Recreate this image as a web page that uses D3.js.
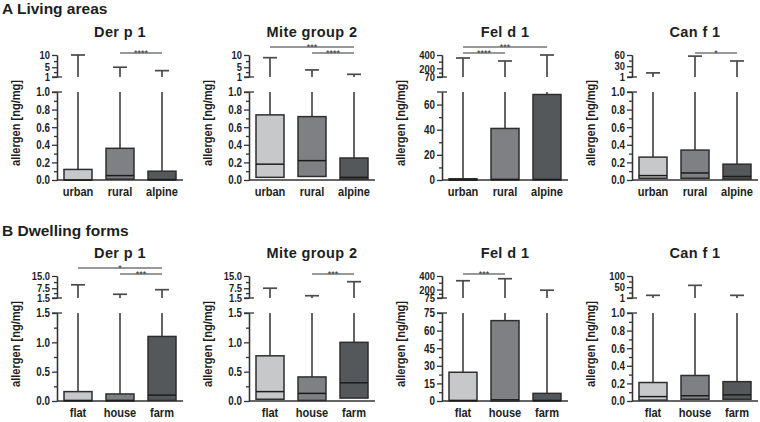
<!DOCTYPE html>
<html><head><meta charset="utf-8">
<script src="https://cdn.jsdelivr.net/npm/d3@7"></script>
<style>
html,body{margin:0;padding:0;background:#fff;}
svg{display:block;}
</style></head><body>
<svg id="c" width="760" height="422"></svg>
<script>
const groupsA = ["urban","rural","alpine"];
const groupsB = ["flat","house","farm"];
const allergens = ["Der p 1","Mite group 2","Fel d 1","Can f 1"];
const sectionTitles = ["A Living areas","B Dwelling forms"];
const fills = ["#c7c8c9","#7e8083","#55585b"];

// box stats per group: [q1, median, q3, max]
const derp1A = [[0,0,0.12,10],[0.01,0.05,0.36,5],[0,0.005,0.10,3.6]];
const mite2A = [[0.03,0.18,0.74,8.9],[0.04,0.22,0.72,3.9],[0.01,0.03,0.25,2.1]];
const feld1A = [[0,0,1,355],[0,0.5,41,310],[0,0.5,68,400]];
const canf1A = [[0.02,0.05,0.26,12],[0.02,0.08,0.34,57],[0.01,0.04,0.18,44]];
const derp1B = [[0,0.01,0.16,9.6],[0,0.01,0.12,3.8],[0.01,0.1,1.1,6.6]];
const mite2B = [[0.03,0.16,0.77,7.5],[0.01,0.13,0.41,2.9],[0.05,0.31,1.0,11.5]];
const feld1B = [[0,0.5,24.5,330],[0,1,68.5,360],[0,0.5,6.5,190]];
const canf1B = [[0.01,0.05,0.21,13],[0.02,0.06,0.29,58],[0.02,0.07,0.22,13]];

// axis segments: [break value, top value]
const segDerA = [1,10], segMiteA = [1,10], segFelA = [70,400], segCanA = [1,60];
const segDerB = [1.5,15], segMiteB = [1.5,15], segFelB = [75,400], segCanB = [1,100];

// tick values
const ticksLow01 = [0,0.2,0.4,0.6,0.8,1.0], minorLow01 = [0.1,0.3,0.5,0.7,0.9];
const ticksLow15 = [0,0.5,1.0,1.5], minorLow15 = [0.25,0.75,1.25];
const ticksLowFelA = [0,20,40,60], minorLowFelA = [10,30,50];
const ticksLowFelB = [0,15,30,45,60,75], minorLowFelB = [7.5,22.5,37.5,52.5,67.5];
const ticksUpDer = [1,5,10], minorUpDer = [3,7.5];
const ticksUpFelA = [70,200,400], minorUpFelA = [135,300];
const ticksUpCanA = [1,30,60], minorUpCanA = [15,45];
const ticksUpDerB = [1.5,7.5,15], minorUpDerB = [4.5,11.25];
const ticksUpFelB = [75,200,400], minorUpFelB = [137.5,300];
const ticksUpCanB = [1,50,100], minorUpCanB = [25,75];

// significance brackets: [from, to, level, label]
const sigDerA = [[1,2,0,"****"]];
const sigMiteA = [[0,2,1,"***"],[1,2,0,"****"]];
const sigFelA = [[0,2,1,"***"],[0,1,0,"****"]];
const sigCanA = [[1,2,0,"*"]];
const sigDerB = [[0,2,1,"*"],[1,2,0,"***"]];
const sigMiteB = [[1,2,0,"***"]];
const sigFelB = [[0,1,0,"***"]];
const sigCanB = [];

const FONT = '"Liberation Sans",Arial,sans-serif';
const SX = 0.82; // horizontal condensing for narrow text
const svg = d3.select("#c");
const axisXs = [57,249,442,632];
const rowOff = [0,221];
const W = 126, boxW = 28, capW = 14;
const upTop = 55, upBot = 77, lowTop = 92, lowBot = 180;

const fmt1 = d3.format(".1f"), fmtD = d3.format("d");
const fmtUp = v => (v===15 ? "15.0" : String(v));

const panels = [
  [0,0,groupsA,derp1A,segDerA,ticksLow01,minorLow01,fmt1,true,ticksUpDer,minorUpDer,sigDerA],
  [0,1,groupsA,mite2A,segMiteA,ticksLow01,minorLow01,fmt1,true,ticksUpDer,minorUpDer,sigMiteA],
  [0,2,groupsA,feld1A,segFelA,ticksLowFelA,minorLowFelA,fmtD,false,ticksUpFelA,minorUpFelA,sigFelA],
  [0,3,groupsA,canf1A,segCanA,ticksLow01,minorLow01,fmt1,true,ticksUpCanA,minorUpCanA,sigCanA],
  [1,0,groupsB,derp1B,segDerB,ticksLow15,minorLow15,fmt1,true,ticksUpDerB,minorUpDerB,sigDerB],
  [1,1,groupsB,mite2B,segMiteB,ticksLow15,minorLow15,fmt1,true,ticksUpDerB,minorUpDerB,sigMiteB],
  [1,2,groupsB,feld1B,segFelB,ticksLowFelB,minorLowFelB,fmtD,true,ticksUpFelB,minorUpFelB,sigFelB],
  [1,3,groupsB,canf1B,segCanB,ticksLow01,minorLow01,fmt1,true,ticksUpCanB,minorUpCanB,sigCanB]
];

sectionTitles.forEach((t,r)=>{
  svg.append("text").attr("x",2).attr("y",14+rowOff[r]+(r?0.5:0))
    .attr("font-family",FONT).attr("font-weight","bold").attr("font-size",15.5)
    .attr("fill","#1e1e1e").text(t);
});

function styleAxis(ag, fontSize){
  ag.select(".domain").attr("stroke","#333").attr("stroke-width",1.3);
  ag.selectAll(".tick line").attr("stroke","#333").attr("stroke-width",1.3);
  ag.selectAll(".tick text").attr("font-family",FONT).attr("font-weight","bold")
    .attr("font-size",fontSize).attr("fill","#1e1e1e")
    .attr("transform",`scale(${SX},1)`).attr("x",-7/SX);
}

panels.forEach(p=>{
  const [r,c,groups,stats,seg,tLow,mLow,fLow,labelTop,tUp,mUp,sigs] = p;
  const ax = axisXs[c], oy = rowOff[r];
  const g = svg.append("g").attr("transform",`translate(${ax},${oy})`);
  const x = d3.scalePoint().domain(groups).range([0,W]).padding(0.5);
  const yL = d3.scaleLinear().domain([0,seg[0]]).range([lowBot,lowTop]);
  const yU = d3.scaleLinear().domain(seg).range([upBot,upTop]);

  // title
  g.append("text").attr("x",W/2).attr("y",37).attr("text-anchor","middle")
    .attr("font-family",FONT).attr("font-weight","bold").attr("font-size",14.5)
    .attr("fill","#1e1e1e").attr("letter-spacing",0.4).text(allergens[c]);

  // y label
  g.append("text").attr("transform",`translate(${-37},${123}) rotate(-90) scale(${SX},1)`)
    .attr("text-anchor","middle").attr("font-family",FONT).attr("font-weight","bold")
    .attr("font-size",13.5).attr("fill","#1e1e1e").text("allergen [ng/mg]");

  // lower axis
  const lowLabels = labelTop ? tLow.concat([seg[0]]).filter((v,i,a)=>a.indexOf(v)===i) : tLow;
  const aL = g.append("g").call(d3.axisLeft(yL).tickValues(lowLabels).tickFormat(fLow).tickSize(5).tickSizeOuter(0));
  styleAxis(aL,12);
  const aLm = g.append("g").call(d3.axisLeft(yL).tickValues(mLow).tickFormat("").tickSize(3).tickSizeOuter(0));
  styleAxis(aLm,12);
  // upper axis
  const aU = g.append("g").call(d3.axisLeft(yU).tickValues(tUp).tickFormat(fmtUp).tickSize(5).tickSizeOuter(0));
  styleAxis(aU,11.5);
  const aUm = g.append("g").call(d3.axisLeft(yU).tickValues(mUp).tickFormat("").tickSize(3).tickSizeOuter(0));
  styleAxis(aUm,11.5);
  // break marks
  [yL(seg[0]), yU(seg[0])].forEach(yy=>{
    g.append("line").attr("x1",-5).attr("x2",5).attr("y1",yy).attr("y2",yy)
      .attr("stroke","#333").attr("stroke-width",1.3);
  });
  // x axis
  g.append("line").attr("x1",0).attr("x2",W).attr("y1",lowBot).attr("y2",lowBot)
    .attr("stroke","#333").attr("stroke-width",1.5);
  groups.forEach(gr=>{
    g.append("text").attr("x",x(gr)/SX).attr("y",196).attr("text-anchor","middle")
      .attr("transform",`scale(${SX},1)`)
      .attr("font-family",FONT).attr("font-weight","bold").attr("font-size",13.5)
      .attr("fill","#1e1e1e").text(gr);
  });

  // boxes
  stats.forEach((s,i)=>{
    const [q1,med,q3,mx] = s;
    const cx = x(groups[i]);
    const wk = g.append("g").attr("stroke","#4a4a4a").attr("stroke-width",1.7);
    if (mx > seg[0]) {
      wk.append("line").attr("x1",cx).attr("x2",cx).attr("y1",yL(q3)).attr("y2",lowTop);
      wk.append("line").attr("x1",cx).attr("x2",cx).attr("y1",upBot).attr("y2",yU(mx));
      wk.append("line").attr("x1",cx-capW/2).attr("x2",cx+capW/2).attr("y1",yU(mx)).attr("y2",yU(mx));
    } else {
      wk.append("line").attr("x1",cx).attr("x2",cx).attr("y1",yL(q3)).attr("y2",yL(mx));
      wk.append("line").attr("x1",cx-capW/2).attr("x2",cx+capW/2).attr("y1",yL(mx)).attr("y2",yL(mx));
    }
    g.append("rect").attr("x",cx-boxW/2).attr("y",yL(q3)).attr("width",boxW)
      .attr("height",Math.max(0.5,yL(q1)-yL(q3)))
      .attr("fill",fills[i]).attr("stroke","#2e2e2e").attr("stroke-width",1.5);
    g.append("line").attr("x1",cx-boxW/2).attr("x2",cx+boxW/2).attr("y1",yL(med)).attr("y2",yL(med))
      .attr("stroke","#1c1c1c").attr("stroke-width",1.5);
  });

  // significance
  sigs.forEach(sg=>{
    const [a,b,lvl,lab] = sg;
    const yy = lvl ? 47 : 53;
    g.append("line").attr("x1",x(groups[a])).attr("x2",x(groups[b])).attr("y1",yy).attr("y2",yy)
      .attr("stroke","#333").attr("stroke-width",1.2);
    g.append("text").attr("x",(x(groups[a])+x(groups[b]))/2).attr("y",yy+2.5)
      .attr("text-anchor","middle").attr("font-family",FONT).attr("font-size",9)
      .attr("fill","#333").text(lab);
  });
});
</script>
</body></html>
